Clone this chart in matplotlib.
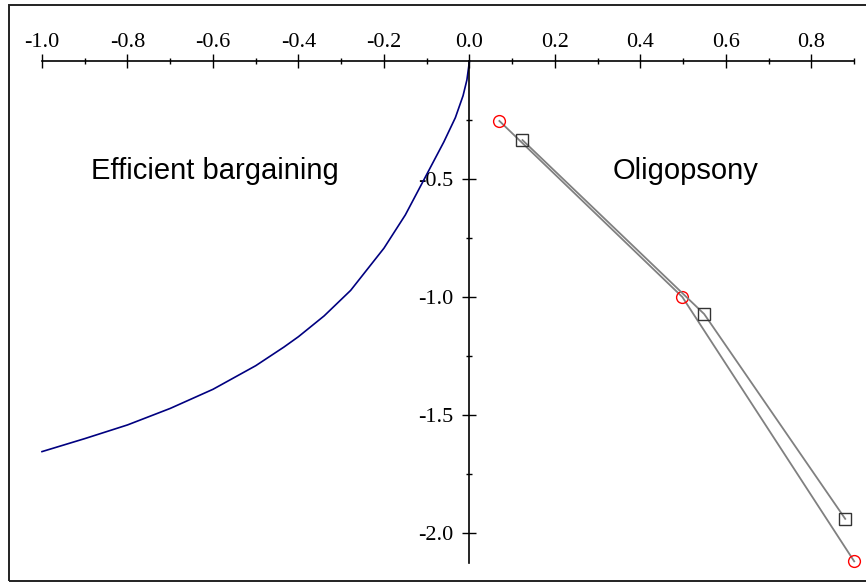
import matplotlib.pyplot as plt
from matplotlib.patches import Rectangle
from matplotlib.ticker import MultipleLocator, FixedLocator

# efficient bargaining contract curve (x, y)
bargain_x = [-1.0, -0.9, -0.8, -0.7, -0.6, -0.5, -0.434, -0.4, -0.34, -0.278,
             -0.2, -0.15, -0.108, -0.06, -0.033, -0.015, -0.006, 0.0]
bargain_y = [-1.655, -1.600, -1.542, -1.472, -1.391, -1.291, -1.212, -1.168, -1.080, -0.972,
             -0.793, -0.652, -0.508, -0.343, -0.240, -0.147, -0.080, 0.0]

# oligopsony outcomes, two series
circ_x = [0.070, 0.498, 0.900]
circ_y = [-0.254, -1.0, -2.12]
sq_x = [0.124, 0.549, 0.879]
sq_y = [-0.335, -1.072, -1.94]

xticks = [-1.0, -0.8, -0.6, -0.4, -0.2, 0.0, 0.2, 0.4, 0.6, 0.8]
yticks = [-2.0, -1.5, -1.0, -0.5]

plt.rcParams["font.family"] = ["Liberation Serif", "DejaVu Serif"]

fig = plt.figure(figsize=(8.66, 5.83), dpi=100)
ax = fig.add_axes([42 / 866, 20 / 583, (854.2 - 42) / 866, 502 / 583])
ax.set_xlim(-1.0, 0.9)
ax.set_ylim(-2.127, 0.0)

ax.plot(bargain_x, bargain_y, color="#000080", lw=1.2, clip_on=False)
ax.plot(circ_x, circ_y, color="#808080", lw=1.3, marker="o", ms=8.5,
        mfc="none", mec="red", mew=1.0, clip_on=False, zorder=3)
ax.plot(sq_x, sq_y, color="#808080", lw=1.3, marker="s", ms=8.2,
        mfc="none", mec="#333333", mew=1.0, clip_on=False, zorder=3)

ax.text(-0.595, -0.466, "Efficient bargaining", family="Liberation Sans",
        fontsize=21, ha="center", va="center")
ax.text(0.505, -0.466, "Oligopsony", family="Liberation Sans",
        fontsize=21, ha="center", va="center")

# axes crossing at the origin
for side in ("right", "bottom"):
    ax.spines[side].set_visible(False)
ax.spines["top"].set_position(("data", 0))
ax.spines["left"].set_position(("data", 0))
ax.spines["top"].set_linewidth(1.2)
ax.spines["left"].set_linewidth(1.2)
ax.xaxis.set_ticks_position("top")
ax.yaxis.set_ticks_position("left")

ax.xaxis.set_major_locator(FixedLocator(xticks))
ax.xaxis.set_minor_locator(MultipleLocator(0.1))
ax.set_xticklabels([f"{v:.1f}" for v in xticks])
ax.yaxis.set_major_locator(FixedLocator(yticks))
ax.yaxis.set_minor_locator(FixedLocator([-2.0, -1.75, -1.5, -1.25, -1.0, -0.75, -0.5, -0.25]))
ax.set_yticklabels([f"{v:.1f}" for v in yticks])

ax.tick_params(which="major", direction="inout", length=9.5, width=1.0,
               labelsize=16, pad=1.5)
ax.tick_params(which="minor", direction="inout", length=4.5, width=1.0)
ax.tick_params(axis="y", which="major", pad=7)

ax.patch.set_visible(False)

fig.patches.append(Rectangle((9 / 866, 2 / 583), 1.0, 576 / 583, fill=False,
                             edgecolor="#222222", lw=1.4,
                             transform=fig.transFigure, figure=fig))

fig.savefig("out.png", dpi=100)
